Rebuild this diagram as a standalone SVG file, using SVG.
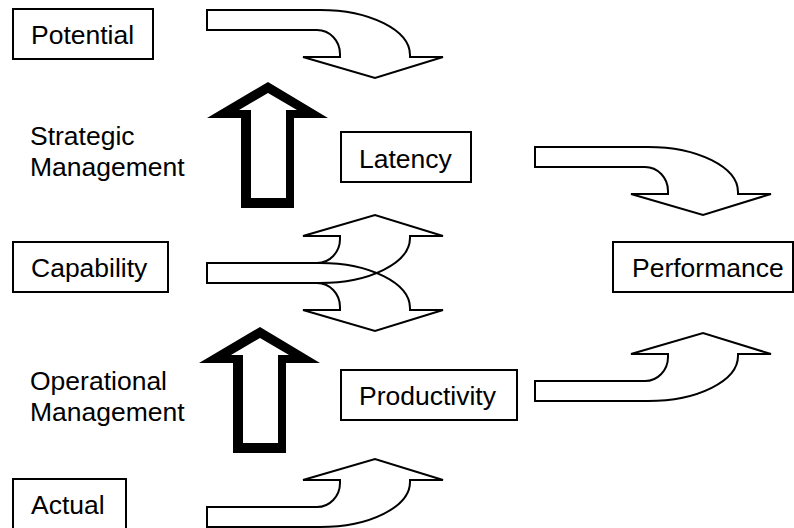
<svg xmlns="http://www.w3.org/2000/svg" width="794" height="528" viewBox="0 0 794 528">
<defs>
<style>
.box{fill:#fff;stroke:#000;stroke-width:2}
.t{font-family:"Liberation Sans",Arial,sans-serif;font-size:26.5px;fill:#000}
.ar{fill:#fff;stroke:#000;stroke-width:2;stroke-linejoin:miter}
.arn{fill:none;stroke:#000;stroke-width:2;stroke-linejoin:miter}
.thick{fill:#000;fill-rule:evenodd}
</style>
<path id="bend" d="M0,0 H113 A90,45 0 0 1 203,45 V47 H236 L168,68 L96,47 H133 V44 A23,24 0 0 0 110,20 H0 Z"/>
<path id="up" d="M268,82 L328,118 L294,118 L294,208 L241,208 L241,118 L207,118 Z M268,93 L239,110 L251,110 L251,198 L286,198 L286,110 L297,110 Z"/>
</defs>
<rect width="794" height="528" fill="#fff"/>
<g id="connectors">
<use href="#bend" class="ar" transform="translate(207,10)"/>
<use href="#bend" class="ar" transform="translate(535,147)"/>
<use href="#bend" class="arn" transform="translate(207,263)"/>
<use href="#bend" class="arn" transform="translate(207,283) scale(1,-1)"/>
<use href="#bend" class="ar" transform="translate(535,401) scale(1,-1)"/>
<use href="#bend" class="ar" transform="translate(207,527) scale(1,-1)"/>
<use href="#up" class="thick"/>
<use href="#up" class="thick" transform="translate(-8,245)"/>
</g>
<g id="potential"><rect class="box" x="13" y="9" width="140" height="50"/><text class="t" x="31" y="44">Potential</text></g>
<g id="strategic"><text class="t" x="30" y="145">Strategic</text><text class="t" x="30" y="176">Management</text></g>
<g id="latency"><rect class="box" x="341" y="132" width="130" height="50"/><text class="t" x="359" y="168">Latency</text></g>
<g id="capability"><rect class="box" x="13" y="242" width="155" height="50"/><text class="t" x="31" y="277">Capability</text></g>
<g id="performance"><rect class="box" x="613" y="242" width="180" height="50"/><text class="t" x="632" y="277">Performance</text></g>
<g id="operational"><text class="t" x="30" y="390">Operational</text><text class="t" x="30" y="421">Management</text></g>
<g id="productivity"><rect class="box" x="341" y="370" width="176" height="50"/><text class="t" x="359" y="405">Productivity</text></g>
<g id="actual"><rect class="box" x="13" y="479" width="113" height="52"/><text class="t" x="31" y="514">Actual</text></g>
</svg>
